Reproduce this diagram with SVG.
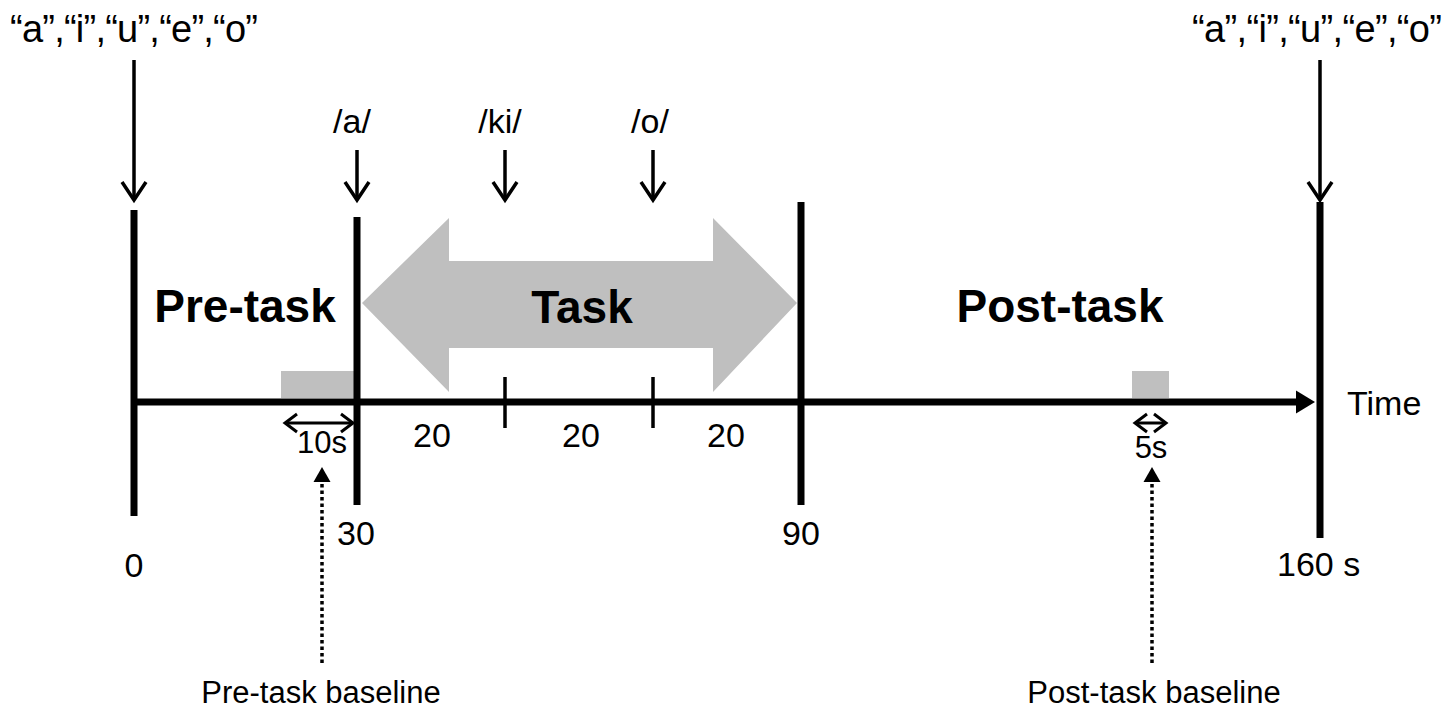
<svg xmlns="http://www.w3.org/2000/svg" width="1455" height="709" viewBox="0 0 1455 709">
<style>
text{font-family:"Liberation Sans",Arial,sans-serif;fill:#000}
.bold{font-weight:bold;font-size:46px}
.num{font-size:34px}
.small{font-size:31px}
.bar{stroke:#000;stroke-width:7;fill:none}
.thin{stroke:#000;stroke-width:3.5;fill:none}
.gray{fill:#BFBFBF}
</style>
<defs>
<marker id="chev" markerUnits="userSpaceOnUse" orient="auto" markerWidth="1" markerHeight="1" overflow="visible">
<path d="M-18,-12 L0,0 L-18,12" fill="none" stroke="#000" stroke-width="3.5"/>
</marker>
<marker id="chevS" markerUnits="userSpaceOnUse" orient="auto-start-reverse" markerWidth="1" markerHeight="1" overflow="visible">
<path d="M-12,-9 L0,0 L-12,9" fill="none" stroke="#000" stroke-width="3"/>
</marker>
<marker id="tri" markerUnits="userSpaceOnUse" orient="auto" markerWidth="1" markerHeight="1" overflow="visible">
<path d="M0,-8.5 L15,0 L0,8.5 Z" fill="#000"/>
</marker>
<marker id="axisHead" markerUnits="userSpaceOnUse" orient="auto" markerWidth="1" markerHeight="1" overflow="visible">
<path d="M0,-11.5 L19,0 L0,11.5 Z" fill="#000"/>
</marker>
</defs>

<g id="task-arrow">
<polygon class="gray" points="362,303 449,218 449,261 713,261 713,218 797,303 713,392 713,348 449,348 449,392"/>
<text class="bold" x="582" y="323" text-anchor="middle">Task</text>
</g>

<g id="baseline-boxes">
<rect class="gray" x="281" y="371" width="74" height="27"/>
<rect class="gray" x="1132" y="371" width="37" height="27"/>
</g>

<g id="timeline">
<line class="bar" x1="133" y1="402" x2="1296" y2="402" marker-end="url(#axisHead)"/>
<line class="bar" x1="134" y1="210" x2="134" y2="516"/>
<line class="bar" x1="357" y1="217" x2="357" y2="505"/>
<line class="bar" x1="801" y1="202" x2="801" y2="505"/>
<line class="bar" x1="1320" y1="202" x2="1320" y2="538"/>
<line class="thin" x1="505" y1="377" x2="505" y2="428"/>
<line class="thin" x1="653" y1="377" x2="653" y2="428"/>
<text class="num" x="1347" y="415">Time</text>
</g>

<g id="phase-labels">
<text class="bold" x="245" y="322" text-anchor="middle">Pre-task</text>
<text class="bold" x="1060" y="322" text-anchor="middle">Post-task</text>
</g>

<g id="time-labels">
<text class="num" x="134" y="577" text-anchor="middle">0</text>
<text class="num" x="356" y="545" text-anchor="middle">30</text>
<text class="num" x="801" y="545" text-anchor="middle">90</text>
<text class="num" x="1277" y="576">160 s</text>
<text class="num" x="432" y="447" text-anchor="middle">20</text>
<text class="num" x="581" y="447" text-anchor="middle">20</text>
<text class="num" x="726" y="447" text-anchor="middle">20</text>
</g>

<g id="stimuli">
<text x="134" y="42" text-anchor="middle" font-size="38" textLength="248" lengthAdjust="spacing">“a”,“i”,“u”,“e”,“o”</text>
<text x="1317" y="42" text-anchor="middle" font-size="38" textLength="250" lengthAdjust="spacing">“a”,“i”,“u”,“e”,“o”</text>
<text class="num" x="352" y="133" text-anchor="middle">/a/</text>
<text class="num" x="500" y="133" text-anchor="middle">/ki/</text>
<text class="num" x="650" y="133" text-anchor="middle">/o/</text>
</g>

<g id="durations">
<text class="small" x="322" y="453" text-anchor="middle" font-size="28">10s</text>
<text class="small" x="1151" y="458" text-anchor="middle" font-size="28">5s</text>
</g>

<g id="baselines">
<text class="small" x="321" y="703" text-anchor="middle">Pre-task baseline</text>
<text class="small" x="1154" y="703" text-anchor="middle">Post-task baseline</text>
</g>

<g id="connectors">
<line class="thin" x1="134" y1="60" x2="134" y2="200" marker-end="url(#chev)"/>
<line class="thin" x1="1320" y1="60" x2="1320" y2="200" marker-end="url(#chev)"/>
<line class="thin" x1="357" y1="150" x2="357" y2="200" marker-end="url(#chev)"/>
<line class="thin" x1="505" y1="150" x2="505" y2="200" marker-end="url(#chev)"/>
<line class="thin" x1="653" y1="150" x2="653" y2="200" marker-end="url(#chev)"/>
<line x1="285" y1="423" x2="353" y2="423" stroke="#000" stroke-width="3" marker-start="url(#chevS)" marker-end="url(#chevS)"/>
<line x1="1135" y1="423" x2="1166" y2="423" stroke="#000" stroke-width="3" marker-start="url(#chevS)" marker-end="url(#chevS)"/>
<line x1="322" y1="663" x2="322" y2="482" stroke="#000" stroke-width="3.5" stroke-dasharray="3.5 3" marker-end="url(#tri)"/>
<line x1="1152" y1="663" x2="1152" y2="482" stroke="#000" stroke-width="3.5" stroke-dasharray="3.5 3" marker-end="url(#tri)"/>
</g>
</svg>
